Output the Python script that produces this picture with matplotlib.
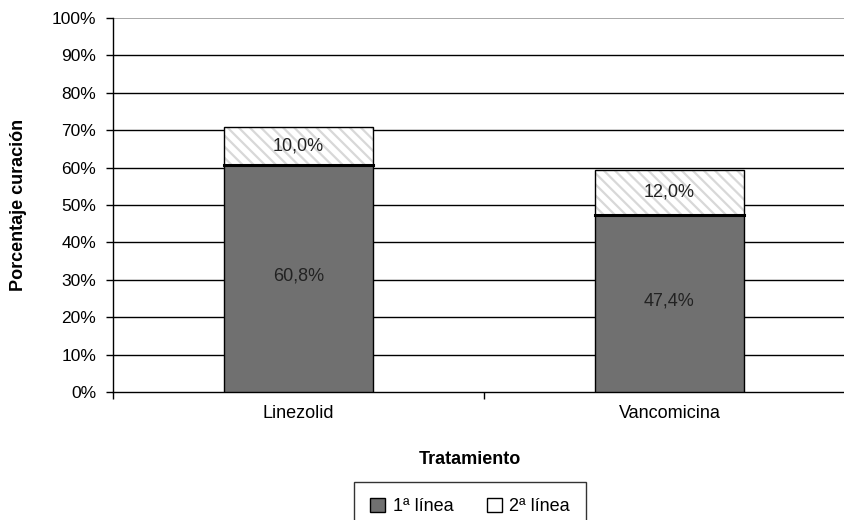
import numpy as np
import matplotlib.pyplot as plt
from matplotlib.patches import Patch

plt.rcParams['font.family'] = ['Liberation Sans', 'DejaVu Sans']
plt.rcParams['hatch.linewidth'] = 1.6

tratamientos = ["Linezolid", "Vancomicina"]
primera = [60.8, 47.4]
segunda = [10.0, 12.0]
etiq_primera = ["60,8%", "47,4%"]
etiq_segunda = ["10,0%", "12,0%"]
yticks = np.arange(0, 101, 10)

fs = 13
fig = plt.figure(figsize=(8.44, 5.2), dpi=100)
ax = fig.add_axes([113/844, 1 - 392/520, 742/844, 374/520])

x = np.arange(len(tratamientos))
w = 0.4
ax.bar(x, primera, w, color="#707070", edgecolor="black", linewidth=1, zorder=3)
# rayado gris claro: barra con borde gris y luego el contorno negro encima
ax.bar(x, segunda, w, bottom=primera, color="white", edgecolor="#d8d8d8",
       hatch="\\\\\\", linewidth=0, zorder=3)
ax.bar(x, segunda, w, bottom=primera, color="none", edgecolor="black",
       linewidth=1, zorder=3)
for i in range(len(x)):
    ax.plot([x[i] - w/2, x[i] + w/2], [primera[i], primera[i]], color="black", lw=2.2, zorder=4)
    ax.text(x[i], primera[i] / 2 + 0.7, etiq_primera[i], ha="center", va="center", fontsize=fs, color="#222222", zorder=5)
    ax.text(x[i], primera[i] + segunda[i] / 2, etiq_segunda[i], ha="center", va="center", fontsize=fs, color="#222222", zorder=5)

for v in yticks[1:-1]:
    ax.axhline(v, color="black", lw=1, zorder=1)
ax.axhline(100, color="#999999", lw=1.2, zorder=1)

ax.set_xlim(-0.5, 1.5)
ax.set_ylim(0, 100)
ax.set_yticks(yticks)
ax.set_yticklabels([f"{v}%" for v in yticks], fontsize=12.5)
ax.set_xticks([-0.5, 0.5, 1.5])
ax.set_xticklabels([])
ax.set_xticks(x, minor=True)
ax.set_xticklabels(tratamientos, minor=True, fontsize=fs)
ax.tick_params(axis="x", which="minor", length=0, pad=9)
ax.tick_params(axis="both", which="major", direction="out", length=5, width=1, color="black", pad=7)
for s in ["top", "right"]:
    ax.spines[s].set_visible(False)
ax.spines["left"].set_linewidth(1)
ax.spines["bottom"].set_linewidth(1)

ax.set_ylabel("Porcentaje curación", fontsize=fs, fontweight="bold")
ax.yaxis.set_label_coords(-86/742, 0.5)
ax.set_xlabel("Tratamiento", fontsize=fs, fontweight="bold")
ax.xaxis.set_label_coords((470 - 113)/742, -(451 - 392)/374)

handles = [Patch(facecolor="#707070", edgecolor="black", label="1ª línea"),
           Patch(facecolor="white", edgecolor="black", label="2ª línea")]
leg = fig.legend(handles=handles, loc="upper center", bbox_to_anchor=(470/844, 1 - 482/520), ncol=2,
                 fontsize=fs, frameon=True, fancybox=False, edgecolor="black",
                 handlelength=0.85, handleheight=0.75, handletextpad=0.4, columnspacing=1.85,
                 borderpad=0.9, borderaxespad=0)
leg.get_frame().set_linewidth(1)

fig.savefig("out.png", dpi=100)
